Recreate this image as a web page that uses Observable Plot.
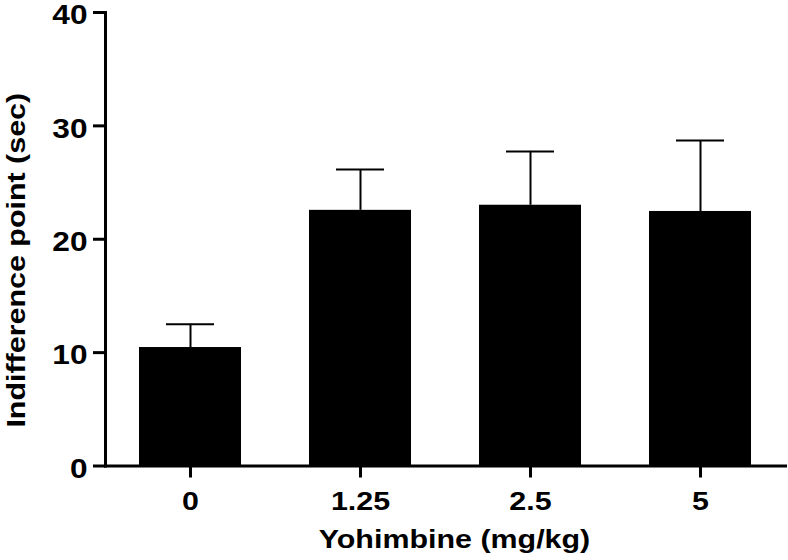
<!DOCTYPE html>
<html>
<head>
<meta charset="utf-8">
<script src="https://cdn.jsdelivr.net/npm/d3@7"></script>
<script src="https://cdn.jsdelivr.net/npm/@observablehq/plot@0.6"></script>
<style>
  html, body { margin: 0; padding: 0; background: #fff; }
  svg { font-family: "Liberation Sans", Arial, Helvetica, sans-serif; }
</style>
</head>
<body>
<div id="chart"></div>
<script>
const doses = ["0", "1.25", "2.5", "5"];
const means = [10.45, 22.55, 23.0, 22.45];
const sems = [2.05, 3.6, 4.75, 6.25];
const yTicks = [0, 10, 20, 30, 40];
const xLabel = "Yohimbine (mg/kg)";
const yLabel = "Indifference point (sec)";

const data = doses.map((d, i) => ({dose: d, mean: means[i], sem: sems[i], top: means[i] + sems[i]}));

const chart = Plot.plot({
  width: 788,
  height: 560,
  marginLeft: 105,
  marginRight: 3,
  marginTop: 12,
  marginBottom: 94.5,
  style: {fontFamily: '"Liberation Sans", Arial, sans-serif', background: "#fff", color: "#000"},
  x: {domain: doses, paddingInner: 0.4, paddingOuter: 0.2, label: null},
  y: {domain: [0, 40], label: null},
  marks: [
    Plot.barY(data, {x: "dose", y: "mean", fill: "#000"}),
    Plot.ruleX(data, {x: "dose", y1: "mean", y2: "top", stroke: "#000", strokeWidth: 2}),
    Plot.tickY(data, {x: "dose", y: "top", stroke: "#000", strokeWidth: 2, insetLeft: 27, insetRight: 27}),
    Plot.frame({anchor: "left", stroke: "#000", strokeWidth: 3, strokeLinecap: "square"}),
    Plot.frame({anchor: "bottom", stroke: "#000", strokeWidth: 3, strokeLinecap: "square"}),
    // y ticks (no text) and y tick labels (nudged slightly down as in the reference)
    Plot.axisY({ticks: yTicks, tickSize: 12, strokeWidth: 3, tickFormat: () => "", label: null}),
    Plot.axisY({ticks: yTicks, tickSize: 0, tickPadding: 18, dy: 3, fontSize: 27, fontWeight: "bold", label: null}),
    Plot.axisX({tickSize: 12, tickPadding: 14, strokeWidth: 3, fontSize: 26, fontWeight: "bold", label: null}),
    Plot.text([xLabel], {frameAnchor: "bottom", textAnchor: "middle", dx: 9, dy: 82, fontSize: 26, fontWeight: "bold", fill: "#000"}),
    Plot.text([yLabel], {frameAnchor: "left", textAnchor: "middle", rotate: -90, dx: -89, dy: 21, fontSize: 26, fontWeight: "bold", fill: "#000"})
  ]
});
document.getElementById("chart").appendChild(chart);
// the reference's lettering is horizontally stretched; widen glyphs to match
chart.querySelectorAll("text").forEach(t => {
  const len = t.getComputedTextLength();
  if (len > 0) {
    t.setAttribute("textLength", (len * 1.17).toFixed(1));
    t.setAttribute("lengthAdjust", "spacingAndGlyphs");
  }
});
</script>
</body>
</html>
